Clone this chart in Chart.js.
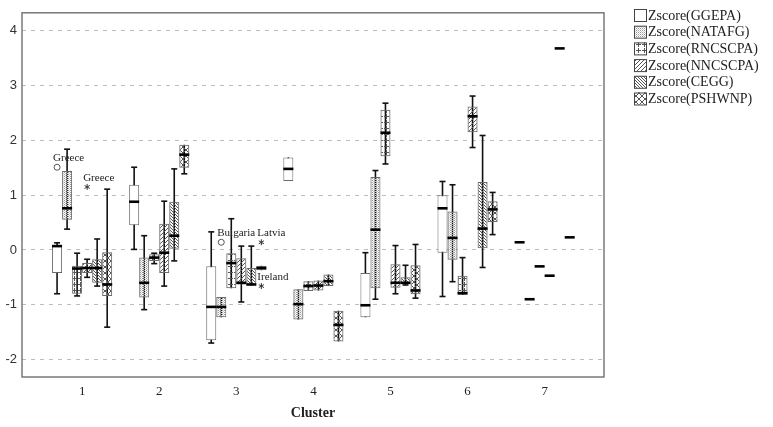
<!DOCTYPE html>
<html><head><meta charset="utf-8">
<script src="https://cdn.jsdelivr.net/npm/chart.js@4/dist/chart.umd.min.js"></script>
<style>html,body{margin:0;padding:0;background:#fff;}#wrap{position:relative;width:773px;height:427px;}</style>
</head><body><div id="wrap"><canvas id="c" width="773" height="427"></canvas></div>
<script>
// ---- data ----
const clusters = [1, 2, 3, 4, 5, 6, 7];
const seriesNames = ['Zscore(GGEPA)', 'Zscore(NATAFG)', 'Zscore(RNCSCPA)', 'Zscore(NNCSCPA)', 'Zscore(CEGG)', 'Zscore(PSHWNP)'];
// each entry: [lower whisker, Q1, median, Q3, upper whisker], one per cluster
const GGEPA = [
  [-0.80, -0.42, 0.07, 0.09, 0.13],
  [0.01, 0.45, 0.88, 1.19, 1.51],
  [-1.70, -1.65, -1.04, -0.30, 0.33],
  [1.26, 1.26, 1.48, 1.69, 1.69],
  [-1.23, -1.23, -1.01, -0.42, -0.05],
  [-0.85, -0.05, 0.76, 1.00, 1.25],
  [0.14, 0.14, 0.14, 0.14, 0.14]
];
const NATAFG = [
  [0.38, 0.55, 0.76, 1.44, 1.84],
  [-1.09, -0.87, -0.60, -0.14, 0.26],
  [-1.23, -1.23, -1.04, -0.86, -0.86],
  [-1.27, -1.27, -0.99, -0.72, -0.72],
  [-0.90, -0.70, 0.37, 1.33, 1.45],
  [-0.58, -0.18, 0.22, 0.70, 1.19],
  [-0.90, -0.90, -0.90, -0.90, -0.90]
];
const RNCSCPA = [
  [-0.84, -0.80, -0.34, -0.29, -0.06],
  [-0.25, -0.20, -0.14, -0.08, -0.06],
  [-0.70, -0.70, -0.24, -0.06, 0.57],
  [-0.75, -0.75, -0.66, -0.57, -0.57],
  [1.57, 1.71, 2.14, 2.56, 2.68],
  [-0.82, -0.82, -0.79, -0.47, -0.14],
  [-0.30, -0.30, -0.30, -0.30, -0.30]
];
const NNCSCPA = [
  [-0.50, -0.42, -0.33, -0.24, -0.17],
  [-0.66, -0.42, -0.05, 0.48, 0.89],
  [-0.95, -0.63, -0.60, -0.15, 0.07],
  [-0.74, -0.74, -0.65, -0.56, -0.56],
  [-0.80, -0.69, -0.60, -0.26, 0.08],
  [1.87, 2.15, 2.44, 2.62, 2.81],
  [-0.47, -0.47, -0.47, -0.47, -0.47]
];
const CEGG = [
  [-0.66, -0.60, -0.33, -0.17, 0.20],
  [-0.20, 0.02, 0.26, 0.88, 1.48],
  [-0.65, -0.65, -0.63, -0.33, 0.07],
  [-0.66, -0.66, -0.57, -0.45, -0.45],
  [-0.64, -0.62, -0.60, -0.50, -0.28],
  [-0.32, 0.03, 0.39, 1.24, 2.09],
  [3.68, 3.68, 3.68, 3.68, 3.68]
];
const PSHWNP = [
  [-1.41, -0.84, -0.63, -0.04, 1.11],
  [1.39, 1.50, 1.74, 1.92, 1.92],
  [-0.37, -0.37, -0.33, -0.29, -0.29],
  [-1.67, -1.67, -1.37, -1.11, -1.11],
  [-0.88, -0.81, -0.74, -0.28, 0.10],
  [0.28, 0.51, 0.74, 0.89, 1.05],
  [0.23, 0.23, 0.23, 0.23, 0.23]
];
const outlierSeries = [0, 3, 1, 5, 5];
const outlierCluster = [1, 1, 3, 3, 3];
const outlierValue = [1.51, 1.15, 0.14, 0.14, -0.66];
const outlierLabel = ['Greece', 'Greece', 'Bulgaria', 'Latvia', 'Ireland'];
const outlierKind = ['circle', 'star', 'circle', 'star', 'star'];
const yTicks = [-2, -1, 0, 1, 2, 3, 4];

// ---- patterns ----
function makePattern(kind) {
  const c = document.createElement('canvas');
  const g = c.getContext('2d');
  let n = 4;
  if (kind === 'dots') n = 2;
  if (kind === 'plus') n = 6;
  if (kind === 'back') n = 3;
  if (kind === 'cross') n = 6;
  c.width = c.height = n;
  g.fillStyle = '#555';
  if (kind === 'dots') { g.fillStyle = '#9a9a9a'; g.fillRect(0, 0, 1, 1); g.fillStyle = '#d0d0d0'; g.fillRect(1, 1, 1, 1); }
  if (kind === 'plus') { g.fillRect(2, 0, 1, 5); g.fillRect(0, 2, 5, 1); }
  if (kind === 'fwd') { for (let i = 0; i < n; i++) g.fillRect(n - 1 - i, i, 1, 1); }
  if (kind === 'back') { for (let i = 0; i < n; i++) g.fillRect(i, i, 1, 1); }
  if (kind === 'cross') { for (let i = 0; i < n; i++) { g.fillRect(i, i, 1, 1); g.fillRect(n - 1 - i, i, 1, 1); } }
  return g.createPattern(c, 'repeat');
}
const mainCtx = document.getElementById('c').getContext('2d');
const fills = ['#ffffff', makePattern('dots'), makePattern('plus'), makePattern('fwd'), makePattern('back'), makePattern('cross')];

const stats = [GGEPA, NATAFG, RNCSCPA, NNCSCPA, CEGG, PSHWNP];
const datasets = stats.map((s, i) => ({
  label: seriesNames[i],
  data: s.map((d, j) => ({ x: clusters[j], y: [d[1], d[3]] })),
  stats: s,
  backgroundColor: fills[i],
  borderColor: '#6a6a6a',
  borderWidth: 1,
  borderSkipped: false
}));

const boxPlugin = {
  id: 'boxParts',
  beforeDatasetsDraw(chart) {
    const ctx = chart.ctx, ys = chart.scales.y;
    ctx.save();
    ctx.strokeStyle = '#111';
    ctx.lineWidth = 1.6;
    chart.data.datasets.forEach((ds, i) => {
      chart.getDatasetMeta(i).data.forEach((bar, j) => {
        const s = ds.stats[j];
        if (s[0] === s[4]) return;
        const x = bar.x;
        ctx.beginPath();
        ctx.moveTo(x, ys.getPixelForValue(s[0]));
        ctx.lineTo(x, ys.getPixelForValue(s[4]));
        ctx.stroke();
        if (s[4] > s[3]) { const p = ys.getPixelForValue(s[4]); ctx.beginPath(); ctx.moveTo(x - 3, p); ctx.lineTo(x + 3, p); ctx.stroke(); }
        if (s[0] < s[1]) { const p = ys.getPixelForValue(s[0]); ctx.beginPath(); ctx.moveTo(x - 3, p); ctx.lineTo(x + 3, p); ctx.stroke(); }
      });
    });
    ctx.restore();
  },
  afterDatasetsDraw(chart) {
    const ctx = chart.ctx, ys = chart.scales.y;
    ctx.save();
    // medians
    ctx.strokeStyle = '#000';
    ctx.lineWidth = 2.6;
    chart.data.datasets.forEach((ds, i) => {
      chart.getDatasetMeta(i).data.forEach((bar, j) => {
        const p = ys.getPixelForValue(ds.stats[j][2]);
        ctx.beginPath();
        ctx.moveTo(bar.x - bar.width / 2, p);
        ctx.lineTo(bar.x + bar.width / 2, p);
        ctx.stroke();
      });
    });
    // outliers
    ctx.font = '11px "Liberation Serif", serif';
    ctx.textBaseline = 'alphabetic';
    ctx.textAlign = 'left';
    outlierValue.forEach((v, k) => {
      const bar = chart.getDatasetMeta(outlierSeries[k]).data[clusters.indexOf(outlierCluster[k])];
      const x = bar.x, y = ys.getPixelForValue(v);
      ctx.lineWidth = 1;
      if (outlierKind[k] === 'circle') {
        ctx.strokeStyle = '#555';
        ctx.beginPath(); ctx.arc(x, y, 3, 0, Math.PI * 2); ctx.stroke();
      } else {
        ctx.strokeStyle = '#333';
        for (let a = 0; a < 3; a++) {
          const t = Math.PI / 2 + a * Math.PI / 3;
          ctx.beginPath();
          ctx.moveTo(x - 3 * Math.cos(t), y - 3 * Math.sin(t));
          ctx.lineTo(x + 3 * Math.cos(t), y + 3 * Math.sin(t));
          ctx.stroke();
        }
      }
      ctx.fillStyle = '#222';
      ctx.fillText(outlierLabel[k], x - 4, y - 6);
    });
    ctx.restore();
  },
  afterDraw(chart) {
    const ctx = chart.ctx, a = chart.chartArea;
    ctx.save();
    ctx.strokeStyle = '#707070';
    ctx.lineWidth = 1.4;
    ctx.strokeRect(a.left, a.top, a.right - a.left, a.bottom - a.top);
    // legend
    ctx.font = '14px "Liberation Serif", serif';
    ctx.textBaseline = 'middle';
    ctx.textAlign = 'left';
    chart.data.datasets.forEach((ds, i) => {
      const top = 9 + i * 16.7;
      const lx = a.right + 30;
      ctx.fillStyle = '#fff';
      ctx.fillRect(lx, top, 12, 12);
      ctx.fillStyle = ds.backgroundColor;
      ctx.fillRect(lx, top, 12, 12);
      ctx.strokeStyle = '#444';
      ctx.lineWidth = 1;
      ctx.strokeRect(lx + 0.5, top + 0.5, 12, 12);
      ctx.fillStyle = '#222';
      ctx.fillText(ds.label, lx + 14, top + 7);
    });
    ctx.restore();
  }
};

new Chart(mainCtx, {
  type: 'bar',
  data: { datasets },
  plugins: [boxPlugin],
  options: {
    responsive: false,
    animation: false,
    layout: { padding: { top: 7, right: 169, left: 0, bottom: 0 } },
    plugins: { legend: { display: false }, tooltip: { enabled: false } },
    datasets: { bar: { categoryPercentage: 0.78, barPercentage: 1.0 } },
    scales: {
      x: {
        type: 'linear', min: 0.22, max: 7.77, offset: false,
        afterBuildTicks: s => { s.ticks = clusters.map(v => ({ value: v })); },
        afterFit: s => { s.height = 50; },
        grid: { display: false, drawTicks: false, offset: false },
        border: { display: false },
        ticks: { font: { family: 'Liberation Serif', size: 13 }, color: '#222', padding: 7 },
        title: { display: true, text: 'Cluster', font: { family: 'Liberation Serif', size: 14, weight: 'bold' }, color: '#222', padding: { top: 0, bottom: 5 } }
      },
      y: {
        type: 'linear', min: -2.32, max: 4.33,
        afterBuildTicks: s => { s.ticks = yTicks.map(v => ({ value: v })); },
        afterFit: s => { s.width = 22; },
        grid: { color: '#bdbdbd', lineWidth: 1, drawTicks: false },
        border: { display: false, dash: [4, 5] },
        ticks: { font: { family: 'Liberation Sans', size: 13 }, color: '#333', padding: 5 }
      }
    }
  }
});
</script>
</body></html>
